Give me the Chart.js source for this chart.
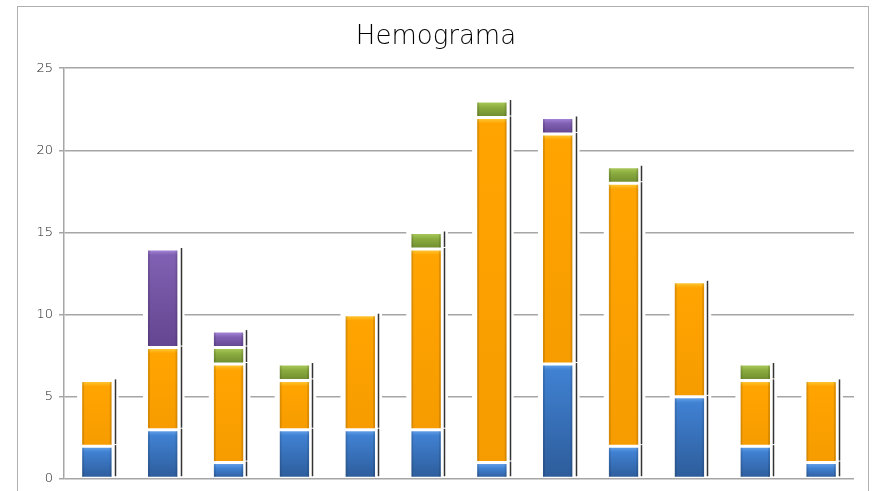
<!DOCTYPE html>
<html>
<head>
<meta charset="utf-8">
<script src="https://cdn.jsdelivr.net/npm/chart.js@4"></script>
<style>
  html, body { margin: 0; padding: 0; background: #ffffff; overflow: hidden; }
  #frame { position: absolute; left: 17px; top: 6px; width: 850px; height: 520px; border: 1px solid #b0b0b0; background: #fff; }
  #wrap { position: absolute; left: 0; top: 0; width: 850px; height: 486px; }
</style>
</head>
<body>
<div id="frame"><div id="wrap"><canvas id="c"></canvas></div></div>
<script>
const categories = ["1", "2", "3", "4", "5", "6", "7", "8", "9", "10", "11", "12"];
const seriesNames = ["Serie 1", "Serie 2", "Serie 3", "Serie 4"];
const blueValues   = [2, 3, 1, 3, 3, 3, 1, 7, 2, 5, 2, 1];
const orangeValues = [4, 5, 6, 3, 7, 11, 21, 14, 16, 7, 4, 5];
const greenValues  = [0, 0, 1, 1, 0, 1, 1, 0, 1, 0, 1, 0];
const purpleValues = [0, 6, 1, 0, 0, 0, 0, 1, 0, 0, 0, 0];
const yTicks = [0, 5, 10, 15, 20, 25];

const colors = ["#3c7acb", "#ffa000", "#87a83c", "#7652a3"];
// [highlight, base, dark] per series for the bevelled look
const shades = [
  ["#6aa6ee", "#4081d2", "#2d5c9a"],
  ["#ffd040", "#ffa400", "#f79c00"],
  ["#b0d060", "#8cad40", "#6e8a2e"],
  ["#ae8ee0", "#8060b2", "#634590"]
];
const valueSets = [blueValues, orangeValues, greenValues, purpleValues];

const haloPlugin = {
  id: 'halo',
  beforeDatasetsDraw(chart) {
    const ctx = chart.ctx;
    ctx.save();
    ctx.fillStyle = '#ffffff';
    chart.data.datasets.forEach((ds, i) => {
      const meta = chart.getDatasetMeta(i);
      meta.data.forEach((el, j) => {
        if (!ds.data[j]) return;
        const w = el.width;
        const top = Math.min(el.y, el.base), bot = Math.max(el.y, el.base);
        ctx.fillRect(el.x - w / 2 - 5, top - 3, w + 12, bot - top + 2);
        const h = bot - top;
        const g = ctx.createLinearGradient(0, top, 0, bot);
        const s = shades[i];
        g.addColorStop(0, s[0]);
        g.addColorStop(Math.min(0.45, 6 / Math.max(h, 1)), s[1]);
        g.addColorStop(1, s[2]);
        el.options = Object.assign({}, el.options, { backgroundColor: g });
      });
    });
    ctx.restore();
  },
  afterDatasetsDraw(chart) {
    const ctx = chart.ctx;
    ctx.save();
    chart.data.datasets.forEach((ds, i) => {
      const meta = chart.getDatasetMeta(i);
      meta.data.forEach((el, j) => {
        if (!ds.data[j]) return;
        const w = el.width;
        const top = Math.min(el.y, el.base), bot = Math.max(el.y, el.base);
        ctx.fillStyle = 'rgba(0,0,0,0.12)';
        ctx.fillRect(el.x - w / 2, top + 1.5, 2, bot - top - 3);
        ctx.fillRect(el.x + w / 2 - 2, top + 1.5, 2, bot - top - 3);
        const x = Math.round(el.x + w / 2 + 3) + 0.5;
        ctx.strokeStyle = '#333333';
        ctx.lineWidth = 1.5;
        ctx.beginPath();
        ctx.moveTo(x, top - 1);
        ctx.lineTo(x, bot - 2);
        ctx.stroke();
      });
    });
    ctx.restore();
  }
};

new Chart(document.getElementById('c'), {
  type: 'bar',
  data: {
    labels: categories,
    datasets: valueSets.map((vals, i) => ({
      label: seriesNames[i],
      data: vals,
      backgroundColor: colors[i],
      borderColor: '#ffffff',
      borderWidth: { top: 1.5, bottom: 1.5, left: 0, right: 0 },
      borderSkipped: false,
      categoryPercentage: 1,
      barPercentage: 0.45
    }))
  },
  options: {
    responsive: true,
    maintainAspectRatio: false,
    animation: false,
    layout: { padding: { left: 0, right: 14, top: 0, bottom: 6 } },
    plugins: {
      legend: { display: false },
      tooltip: { enabled: false },
      title: {
        display: true,
        text: 'Hemograma',
        color: '#000000',
        font: { family: 'DejaVu Sans', size: 26, weight: 300 },
        padding: { top: 15, bottom: 15 }
      }
    },
    scales: {
      x: {
        stacked: true,
        grid: { display: false },
        border: { display: false },
        ticks: { display: false }
      },
      y: {
        stacked: true,
        min: 0,
        max: 25,
        afterBuildTicks(axis) { axis.ticks = yTicks.map(v => ({ value: v })); },
        afterFit(axis) { axis.width = 46; },
        grid: { color: '#a6a6a6', lineWidth: 1.5, tickLength: 5, drawTicks: true },
        border: { display: true, color: '#a6a6a6', width: 1.5 },
        ticks: { color: '#1a1a1a', font: { family: 'DejaVu Sans', size: 13, weight: 300 }, padding: 6 }
      }
    }
  },
  plugins: [haloPlugin]
});
</script>
</body>
</html>
